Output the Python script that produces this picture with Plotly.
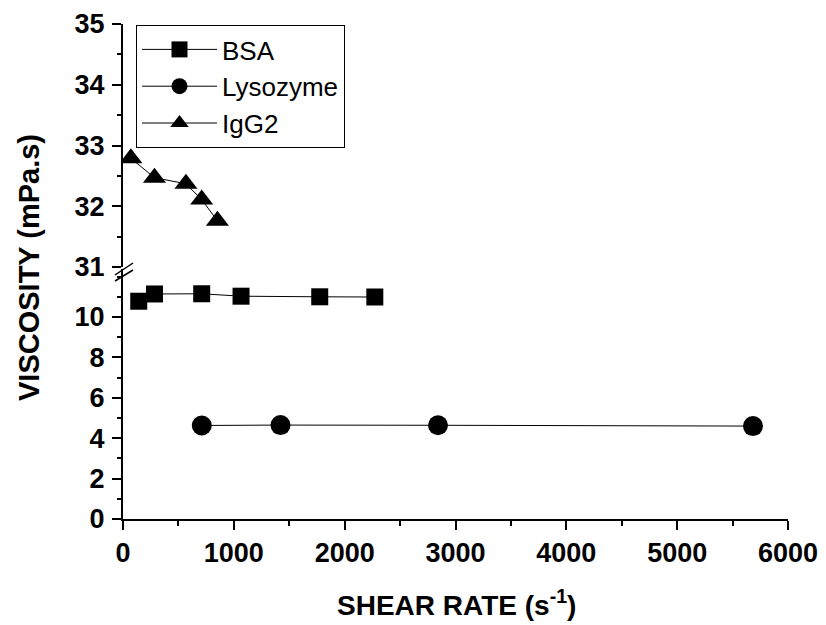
import plotly.graph_objects as go

# Data
bsa_x = [142, 284, 710, 1065, 1775, 2272]
bsa_y = [10.78, 11.14, 11.15, 11.03, 11.0, 10.99]
lys_x = [711, 1421, 2842, 5684]
lys_y = [4.63, 4.65, 4.64, 4.6]
igg_x = [71, 284, 568, 710, 852]
igg_y = [32.79, 32.47, 32.37, 32.11, 31.76]

x_ticks = [0, 1000, 2000, 3000, 4000, 5000, 6000]
y_low_ticks = [0, 2, 4, 6, 8, 10]
y_high_ticks = [31, 32, 33, 34, 35]

FONT = "Liberation Sans, Arial, sans-serif"

# The page body has an 8px margin; geometry below is given in page pixels.
OFF = 8
FW, FH = 826 - OFF, 625 - OFF
L, R, T, B = 123, 788, 24, 519          # plot area in page pixels
W, H = R - L, B - T


def px(x):
    return (x - L) / W


def py(y):
    return (B - y) / H


fig = go.Figure()
line = dict(color="black", width=1)
fig.add_trace(go.Scatter(x=bsa_x, y=bsa_y, mode="lines+markers", name="BSA",
                         line=line,
                         marker=dict(symbol="square", size=17, color="black"),
                         xaxis="x", yaxis="y"))
fig.add_trace(go.Scatter(x=lys_x, y=lys_y, mode="lines+markers", name="Lysozyme",
                         line=line,
                         marker=dict(symbol="circle", size=20, color="black"),
                         xaxis="x", yaxis="y"))
fig.add_trace(go.Scatter(x=igg_x, y=igg_y, mode="lines+markers", name="IgG2",
                         line=line,
                         marker=dict(symbol="triangle-up", size=20, color="black"),
                         xaxis="x", yaxis="y2"))

UP0 = py(267)
LOW1 = py(269)
axis_common = dict(showline=True, linecolor="black", linewidth=2, ticks="outside",
                   tickcolor="black", tickwidth=2, ticklen=9, showgrid=False,
                   zeroline=False, automargin=False,
                   tickfont=dict(family=FONT, size=27, color="black", weight="bold"))

fig.update_layout(
    width=FW, height=FH,
    paper_bgcolor="white", plot_bgcolor="white",
    margin=dict(l=L - OFF, r=826 - R, t=T - OFF, b=625 - B, autoexpand=False),
    xaxis=dict(range=[0, 6000], tickvals=x_ticks, anchor="y",
               minor=dict(dtick=500, ticks="outside", ticklen=5, tickcolor="black", tickwidth=1.5),
               **axis_common),
    yaxis=dict(range=[0, (B - 269) / 20.2], domain=[0, LOW1], tickvals=y_low_ticks, anchor="x",
               ticklabelstandoff=2,
               minor=dict(dtick=1, ticks="outside", ticklen=4, tickcolor="black", tickwidth=1.5),
               **axis_common),
    yaxis2=dict(range=[31, 35], domain=[UP0, 1], tickvals=y_high_ticks, anchor="x",
                ticklabelstandoff=2,
                minor=dict(dtick=0.5, ticks="outside", ticklen=4, tickcolor="black", tickwidth=1.5),
                **axis_common),
    showlegend=True,
    legend=dict(x=px(136), y=py(25), xanchor="left", yanchor="top",
                bordercolor="black", borderwidth=1, bgcolor="white",
                font=dict(family=FONT, size=26, color="black"),
                traceorder="normal", itemwidth=75, tracegroupgap=0),
    annotations=[
        dict(text="VISCOSITY (mPa.s)", x=px(29), xref="paper", y=py(268), yref="paper",
             xanchor="center", yanchor="middle", textangle=-90,
             showarrow=False, font=dict(family=FONT, size=29, color="black", weight="bold")),
        dict(text="SHEAR RATE (s<sup>-1</sup>)", x=px(456), xref="paper", y=py(603), yref="paper",
             xanchor="center", yanchor="middle", showarrow=False,
             font=dict(family=FONT, size=28, color="black", weight="bold")),
    ],
    shapes=[
        dict(type="line", xref="paper", yref="paper", x0=px(115), x1=px(133),
             y0=py(275), y1=py(263), line=dict(color="black", width=1.5)),
        dict(type="line", xref="paper", yref="paper", x0=px(115), x1=px(133),
             y0=py(281), y1=py(270), line=dict(color="black", width=1.5)),
    ],
)

fig.write_html("out.html")
